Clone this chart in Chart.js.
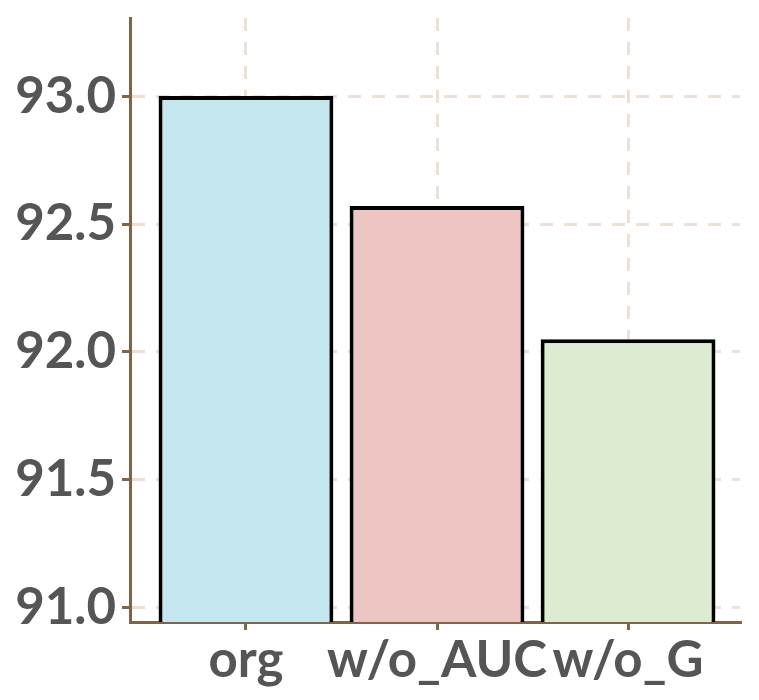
<!DOCTYPE html>
<html lang="en">
<head>
  <meta charset="UTF-8">
  <title>Ablation bar chart</title>
  <script src="https://cdn.jsdelivr.net/npm/chart.js"></script>
  <style>
    html, body { margin: 0; padding: 0; background: #ffffff; }
    .chart-box { position: relative; width: 759px; height: 700px; }
  </style>
</head>
<body>
  <div class="chart-box">
    <canvas id="barChart"></canvas>
  </div>
  <script>
    // Data
    const categories = ['org', 'w/o_AUC', 'w/o_G'];
    const positions = [0, 1, 2];
    const scores = [93.0, 92.57, 92.05];
    const yTicks = [91.0, 91.5, 92.0, 92.5, 93.0];

    const barColors = ['#c4e7ef', '#edc6c3', '#ddecd0'];
    const axisColor = '#806446';
    const gridColor = 'rgba(226, 205, 182, 0.6)';
    const textColor = '#555555';
    const tickFont = { family: 'Lato', weight: 'bold', size: 51 };

    const ctx = document.getElementById('barChart').getContext('2d');
    new Chart(ctx, {
      type: 'bar',
      data: {
        datasets: [{
          data: positions.map((p, i) => ({ x: p, y: scores[i] })),
          backgroundColor: barColors,
          borderColor: '#000000',
          borderWidth: 4,
          borderSkipped: 'start',
          barPercentage: 0.915,
          categoryPercentage: 1.0
        }]
      },
      options: {
        responsive: true,
        maintainAspectRatio: false,
        animation: false,
        layout: { padding: { top: 18, right: 19, left: 0, bottom: 0 } },
        plugins: {
          legend: { display: false },
          tooltip: { enabled: false }
        },
        scales: {
          x: {
            type: 'linear',
            min: -0.607,
            max: 2.586,
            offset: false,
            z: 1,
            afterBuildTicks: s => { s.ticks = positions.map(v => ({ value: v })); },
            afterFit: s => { s.height = 78; s.paddingLeft = 0; s.paddingRight = 0; },
            ticks: {
              color: textColor,
              font: tickFont,
              padding: 0,
              maxRotation: 0,
              autoSkip: false,
              callback: v => categories[v]
            },
            grid: {
              offset: false,
              color: gridColor,
              lineWidth: 3,
              tickLength: 8,
              tickColor: axisColor,
              tickWidth: 3,
              tickBorderDash: []
            },
            border: { color: axisColor, width: 3, dash: [13, 11] }
          },
          y: {
            min: 90.945,
            max: 93.305,
            z: 1,
            afterBuildTicks: s => { s.ticks = yTicks.map(v => ({ value: v })); },
            afterFit: s => { s.width = 130; s.paddingTop = 0; s.paddingBottom = 0; },
            ticks: {
              color: textColor,
              font: tickFont,
              padding: 6,
              callback: v => Number(v).toFixed(1)
            },
            grid: {
              color: gridColor,
              lineWidth: 3,
              tickLength: 8,
              tickColor: axisColor,
              tickWidth: 3,
              tickBorderDash: []
            },
            border: { color: axisColor, width: 3, dash: [13, 11] }
          }
        }
      }
    });
  </script>
</body>
</html>
